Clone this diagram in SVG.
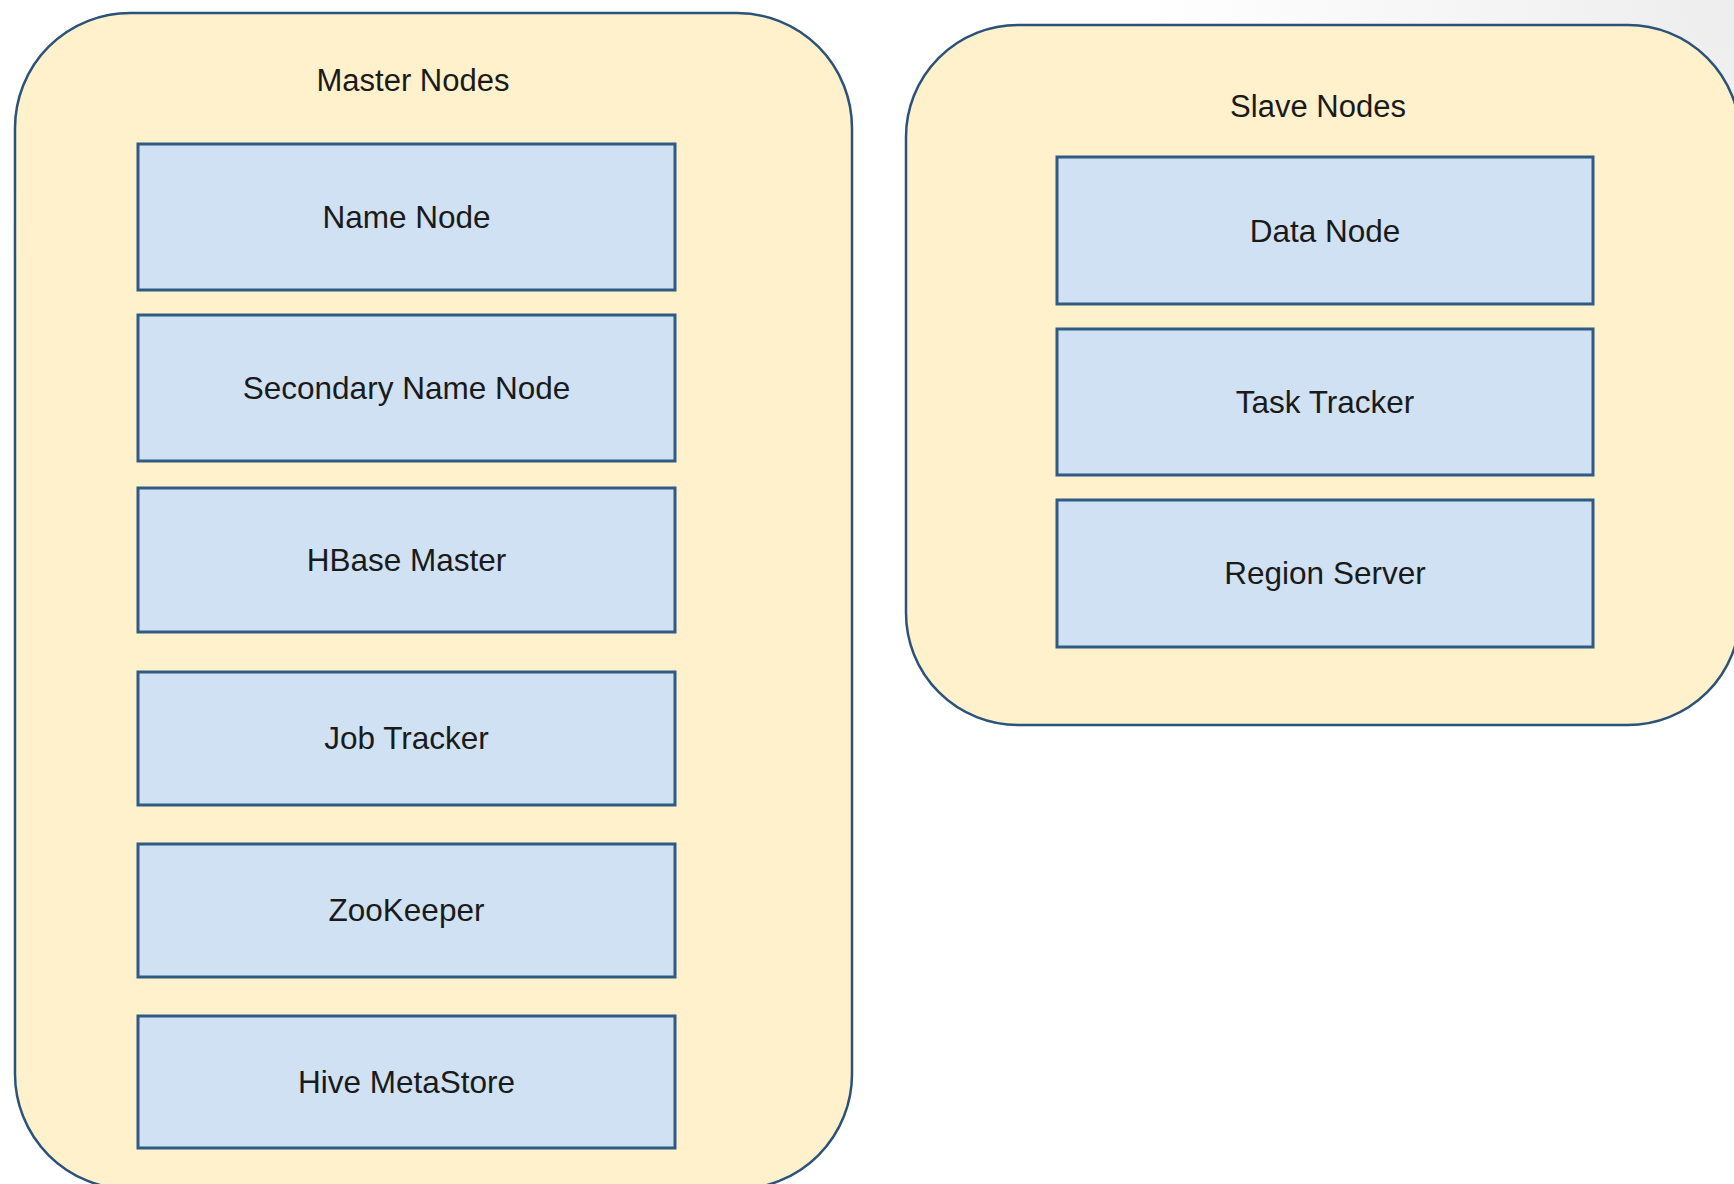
<svg xmlns="http://www.w3.org/2000/svg" width="1734" height="1184" viewBox="0 0 1734 1184">
  <defs>
    <radialGradient id="bgShade" cx="1734" cy="0" r="600" gradientUnits="userSpaceOnUse">
      <stop offset="0" stop-color="#ededed"/>
      <stop offset="1" stop-color="#ffffff"/>
    </radialGradient>
    <style>
      .container { fill: #fff1cc; stroke: #2b5279; stroke-width: 2.5; }
      .box { fill: #cfe1f3; stroke: #2f5a84; stroke-width: 3; }
      .title { font-family: "Liberation Sans", Arial, sans-serif; font-size: 31px; fill: #1a1a1a; text-anchor: middle; }
      .label { font-family: "Liberation Sans", Arial, sans-serif; font-size: 31.5px; fill: #1a1a1a; text-anchor: middle; }
    </style>
  </defs>
  <rect x="0" y="0" width="1734" height="1184" fill="url(#bgShade)"/>

  <g id="master-nodes">
    <rect class="container" x="15" y="13" width="837" height="1176" rx="115" ry="115"/>
    <text class="title" x="413" y="91">Master Nodes</text>
  </g>
  <g id="name-node">
    <rect class="box" x="138" y="144" width="537" height="146"/>
    <text class="label" x="406.5" y="228">Name Node</text>
  </g>
  <g id="secondary-name-node">
    <rect class="box" x="138" y="315" width="537" height="146"/>
    <text class="label" x="406.5" y="399">Secondary Name Node</text>
  </g>
  <g id="hbase-master">
    <rect class="box" x="138" y="488" width="537" height="144"/>
    <text class="label" x="406.5" y="571">HBase Master</text>
  </g>
  <g id="job-tracker">
    <rect class="box" x="138" y="672" width="537" height="133"/>
    <text class="label" x="406.5" y="749">Job Tracker</text>
  </g>
  <g id="zookeeper">
    <rect class="box" x="138" y="844" width="537" height="133"/>
    <text class="label" x="406.5" y="921">ZooKeeper</text>
  </g>
  <g id="hive-metastore">
    <rect class="box" x="138" y="1016" width="537" height="132"/>
    <text class="label" x="406.5" y="1093">Hive MetaStore</text>
  </g>

  <g id="slave-nodes">
    <rect class="container" x="906" y="25" width="834" height="700" rx="112" ry="112"/>
    <text class="title" x="1318" y="117">Slave Nodes</text>
  </g>
  <g id="data-node">
    <rect class="box" x="1057" y="157" width="536" height="147"/>
    <text class="label" x="1325" y="242">Data Node</text>
  </g>
  <g id="task-tracker">
    <rect class="box" x="1057" y="329" width="536" height="146"/>
    <text class="label" x="1325" y="413">Task Tracker</text>
  </g>
  <g id="region-server">
    <rect class="box" x="1057" y="500" width="536" height="147"/>
    <text class="label" x="1325" y="584">Region Server</text>
  </g>

  <g id="connectors"/>
</svg>
